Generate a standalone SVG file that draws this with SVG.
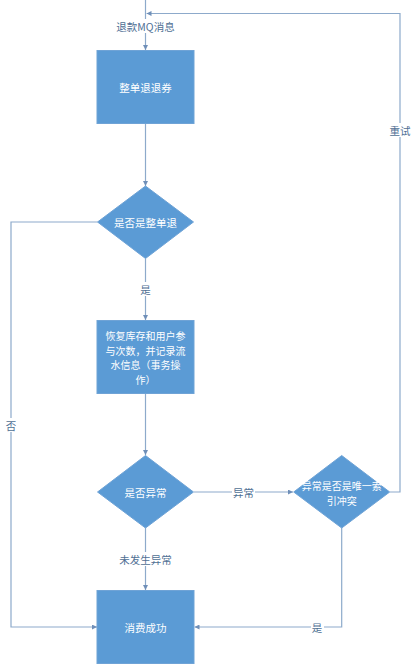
<svg xmlns="http://www.w3.org/2000/svg" width="416" height="669" viewBox="0 0 416 669">
<style>
.node{fill:#5B9BD5;stroke:#6FA3D6;stroke-width:1}
.nt{fill:#ffffff;font-family:"Noto Sans CJK SC","Noto Sans",sans-serif;font-size:10.5px;text-anchor:middle;dominant-baseline:central}
.ml{font-size:10px}
.ln{fill:none;stroke:#8DAACB;stroke-width:1.2}
.lb{fill:#4F6F94;font-family:"Noto Sans CJK SC","Noto Sans",sans-serif;font-size:10.5px;text-anchor:middle;dominant-baseline:central}
.bg{fill:#ffffff}
</style>
<defs>
<marker id="ar" viewBox="0 0 10 10" refX="10" refY="5" markerWidth="5" markerHeight="5" orient="auto" markerUnits="userSpaceOnUse">
<path d="M0,0 L10,5 L0,10 z" fill="#6F8FB8"/>
</marker>
</defs>
<rect width="416" height="669" fill="#ffffff"/>
<g id="connectors">
<path class="ln" d="M145.5,0 V50" marker-end="url(#ar)"/>
<path class="ln" d="M145.5,123.5 V186" marker-end="url(#ar)"/>
<path class="ln" d="M145.5,258.5 V320" marker-end="url(#ar)"/>
<path class="ln" d="M145.5,393.5 V455" marker-end="url(#ar)"/>
<path class="ln" d="M145.5,528 V590" marker-end="url(#ar)"/>
<path class="ln" d="M97.5,222 H11 V627 H97" marker-end="url(#ar)"/>
<path class="ln" d="M194,492 H293" marker-end="url(#ar)"/>
<path class="ln" d="M390,492 H400 V13.5 H146.5" marker-end="url(#ar)"/>
<path class="ln" d="M341.7,528 V627 H194.5" marker-end="url(#ar)"/>
<rect class="bg" x="116" y="19" width="59" height="14"/>
<text class="lb" x="145.5" y="26">退款MQ消息</text>
<rect class="bg" x="139" y="282" width="13" height="14"/>
<text class="lb" x="145.5" y="289">是</text>
<rect class="bg" x="4" y="418" width="14" height="14"/>
<text class="lb" x="11" y="425">否</text>
<rect class="bg" x="389" y="123" width="23" height="14"/>
<text class="lb" x="400" y="130">重试</text>
<rect class="bg" x="232" y="485" width="23" height="14"/>
<text class="lb" x="243.5" y="492">异常</text>
<rect class="bg" x="118" y="552" width="55" height="14"/>
<text class="lb" x="145.5" y="559">未发生异常</text>
<rect class="bg" x="311" y="620" width="13" height="14"/>
<text class="lb" x="317" y="627">是</text>
</g>
<g id="n1">
<rect class="node" x="97" y="50.5" width="97" height="73"/>
<text class="nt" x="145.5" y="87">整单退退券</text>
</g>
<g id="n2">
<path class="node" d="M145.5,186 L193.5,222 L145.5,258.5 L97.5,222 z"/>
<text class="nt" x="145.5" y="222">是否是整单退</text>
</g>
<g id="n3">
<rect class="node" x="97" y="320.5" width="97" height="73"/>
<text class="nt ml"><tspan x="145.5" y="335">恢复库存和用户参</tspan><tspan x="145.5" y="349.5">与次数，并记录流</tspan><tspan x="145.5" y="364">水信息（事务操</tspan><tspan x="145.5" y="378.5">作）</tspan></text>
</g>
<g id="n4">
<path class="node" d="M145.5,455.5 L193.5,492 L145.5,528 L97.5,492 z"/>
<text class="nt" x="145.5" y="492">是否异常</text>
</g>
<g id="n5">
<path class="node" d="M341.7,455.5 L389.7,492 L341.7,528 L293.7,492 z"/>
<text class="nt ml"><tspan x="341.7" y="485">异常是否是唯一索</tspan><tspan x="341.7" y="499.5">引冲突</tspan></text>
</g>
<g id="n6">
<rect class="node" x="97" y="590.5" width="97" height="73"/>
<text class="nt" x="145.5" y="627">消费成功</text>
</g>
</svg>
